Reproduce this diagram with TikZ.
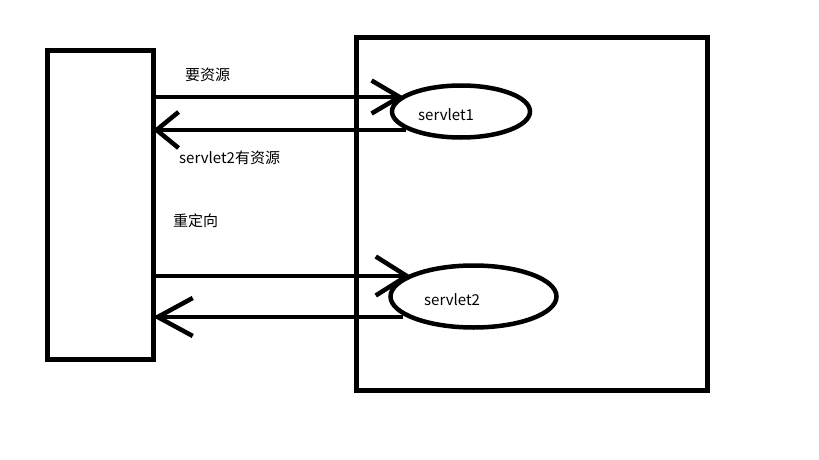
\documentclass[tikz,border=0pt]{standalone}
\usepackage{fontspec}
\setmainfont{Noto Sans CJK SC}
\usetikzlibrary{arrows.meta,shapes.geometric}
\begin{document}
\begin{tikzpicture}[x=1pt,y=-1pt,
  box/.style={draw,line width=5pt,inner sep=0pt},
  oval/.style={draw,ellipse,line width=4.5pt,inner sep=0pt},
  lbl/.style={font=\fontsize{15}{17}\selectfont,anchor=west,inner sep=0pt},
  link/.style={line width=4.5pt},
]
\useasboundingbox (0,0) rectangle (819,460);
\fill[white] (0,0) rectangle (819,460);
% boxes
\node[box,minimum width=106pt,minimum height=308.5pt] (L) at (100.5,204.75) {};
\node[box,minimum width=351pt,minimum height=352.5pt] (R) at (532,213.75) {};
% ellipses
\node[oval,minimum width=138pt,minimum height=52pt] (s1) at (461,111.5) {};
\node[oval,minimum width=166pt,minimum height=62pt] (s2) at (473.5,296.5) {};
\node[lbl] (t1) at (418,115) {servlet1};
\node[lbl] (t2) at (424,300) {servlet2};
% arrow endpoints
\coordinate (a1) at (404,97);
\coordinate (b1) at (406,130);
\coordinate (a2) at (411,276);
\coordinate (b2) at (403,317);
\draw[link,-{Straight Barb[length=28pt,width=33pt]}] (L.east |- a1) -- (a1);
\draw[link,shorten >=-3pt,-{Straight Barb[length=22pt,width=36pt]}] (b1) -- (L.east |- b1);
\draw[link,-{Straight Barb[length=31pt,width=39pt]}] (L.east |- a2) -- (a2);
\draw[link,shorten >=-3pt,-{Straight Barb[length=35pt,width=38pt]}] (b2) -- (L.east |- b2);
% labels
\node[lbl] (l1) at (185,75) {要资源};
\node[lbl] (l2) at (179,158) {servlet2有资源};
\node[lbl] (l3) at (173,221) {重定向};
\end{tikzpicture}
\end{document}
